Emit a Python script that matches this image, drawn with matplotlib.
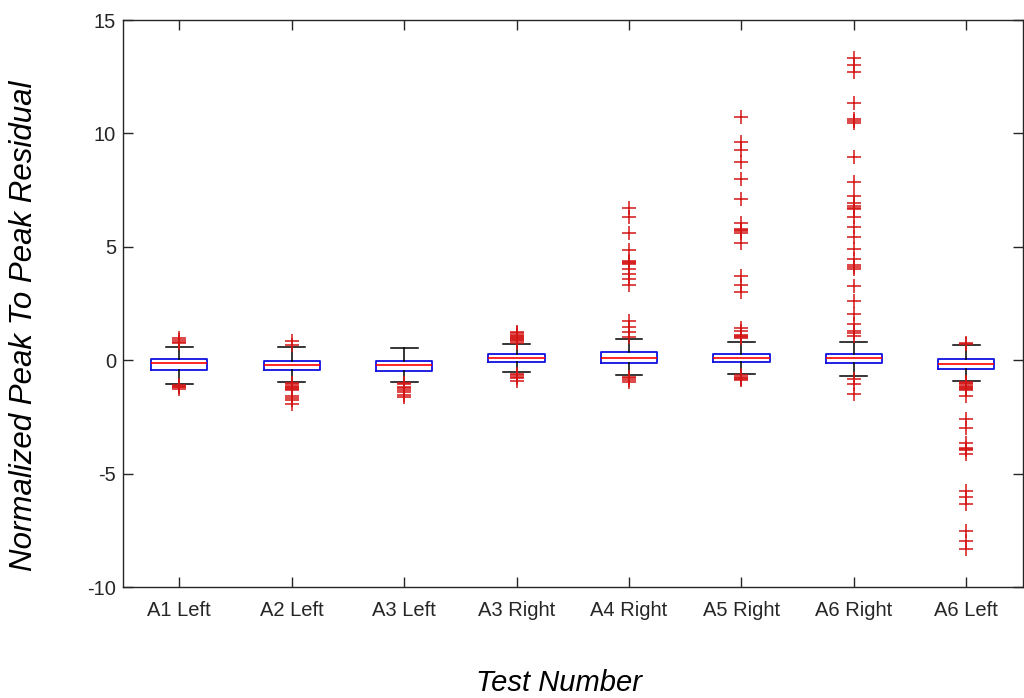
import matplotlib
matplotlib.use("Agg")
import matplotlib.pyplot as plt

plt.rcParams['font.family'] = ['Liberation Sans', 'DejaVu Sans']
plt.rcParams['axes.unicode_minus'] = False

labels = ["A1 Left", "A2 Left", "A3 Left", "A3 Right", "A4 Right", "A5 Right", "A6 Right", "A6 Left"]
q1 = [-0.44, -0.44, -0.49, -0.09, -0.13, -0.09, -0.13, -0.40]
med = [-0.13, -0.22, -0.22, 0.09, 0.09, 0.09, 0.09, -0.18]
q3 = [0.04, -0.05, -0.05, 0.26, 0.35, 0.26, 0.26, 0.04]
whis_lo = [-1.06, -0.97, -0.97, -0.53, -0.66, -0.62, -0.71, -0.93]
whis_hi = [0.57, 0.57, 0.53, 0.70, 0.93, 0.79, 0.79, 0.66]

fl_a1l = [0.75, 0.82, 0.88, 1.0, -1.1, -1.13, -1.17, -1.2, -1.27]
fl_a2l = [0.68, 0.83, -1.02, -1.07, -1.12, -1.17, -1.22, -1.27, -1.32, -1.59, -1.67, -1.77, -1.94]
fl_a3l = [-1.02, -1.07, -1.17, -1.22, -1.32, -1.42, -1.52, -1.63]
fl_a3r = [0.78, 0.83, 0.88, 0.93, 0.98, 1.03, 1.08, 1.13, 1.18, 1.23,
          -0.59, -0.65, -0.72, -0.77, -0.92]
fl_a4r = [-0.72, -0.79, -0.87, -0.97, 1.03, 1.23, 1.48, 1.73, 3.33, 3.58, 3.78,
          4.03, 4.23, 4.28, 4.33, 4.38, 4.88, 5.63, 6.33, 6.73]
fl_a5r = [0.98, 1.03, 1.08, 1.13, 1.28, 1.43, 2.99, 3.33, 3.7, 5.18, 5.63, 5.68,
          5.73, 5.78, 6.03, 7.13, 7.98, 8.73, 9.28, 9.63, 10.73,
          -0.67, -0.72, -0.77, -0.82, -0.87]
fl_a6r = [-0.84, -1.07, -1.5, 1.08, 1.18, 1.28, 1.58, 2.02, 2.6, 3.26, 4.01, 4.13,
          4.18, 4.45, 4.89, 5.42, 5.86, 6.3, 6.68, 6.73, 6.78, 6.93, 7.23, 7.88,
          8.98, 10.48, 10.53, 10.63, 11.33, 12.73, 13.03, 13.33]
fl_a6l = [0.7, 0.75, -0.97, -1.02, -1.07, -1.12, -1.17, -1.22, -1.27, -1.32, -1.57,
          -2.57, -2.97, -3.67, -3.87, -3.92, -3.97, -4.14, -5.77, -6.04, -6.34,
          -7.52, -7.97, -8.32]
fliers = [fl_a1l, fl_a2l, fl_a3l, fl_a3r, fl_a4r, fl_a5r, fl_a6r, fl_a6l]

stats = []
for i in range(len(labels)):
    stats.append(dict(label=labels[i], q1=q1[i], med=med[i], q3=q3[i],
                      whislo=whis_lo[i], whishi=whis_hi[i], fliers=fliers[i]))

fig = plt.figure(figsize=(10.24, 6.98), dpi=100)
ax = fig.add_axes([0.1201, 0.159, 0.8785, 0.8123])

ax.bxp(stats, positions=range(1, 9), widths=0.5, capwidths=0.24,
       boxprops=dict(color='#1010e0', linewidth=1.3),
       medianprops=dict(color='#ff0000', linewidth=1.2),
       whiskerprops=dict(color='black', linewidth=1.1),
       capprops=dict(color='black', linewidth=1.1),
       flierprops=dict(marker='+', markeredgecolor='#d41515', markersize=10,
                       markeredgewidth=1.1, linestyle='none'))

ax.set_xlim(0.5, 8.5)
ax.set_ylim(-10, 15)
ax.set_yticks([-10, -5, 0, 5, 10, 15])
ax.tick_params(direction='in', length=7, width=1, top=True, right=True,
               labelsize=14.5, labelcolor='#262626', color='#262626')
ax.tick_params(axis='x', pad=10)
ax.tick_params(axis='y', pad=5)
for s in ax.spines.values():
    s.set_color('#262626')
    s.set_linewidth(1)

ax.set_xlabel("Test Number", fontsize=21, style='italic', va='center')
ax.set_ylabel("Normalized Peak To Peak Residual", fontsize=22.5, style='italic', va='center')
ax.xaxis.set_label_coords(0.485, -0.169)
ax.yaxis.set_label_coords(-0.11, 0.46)

fig.savefig("out.png", dpi=100)
